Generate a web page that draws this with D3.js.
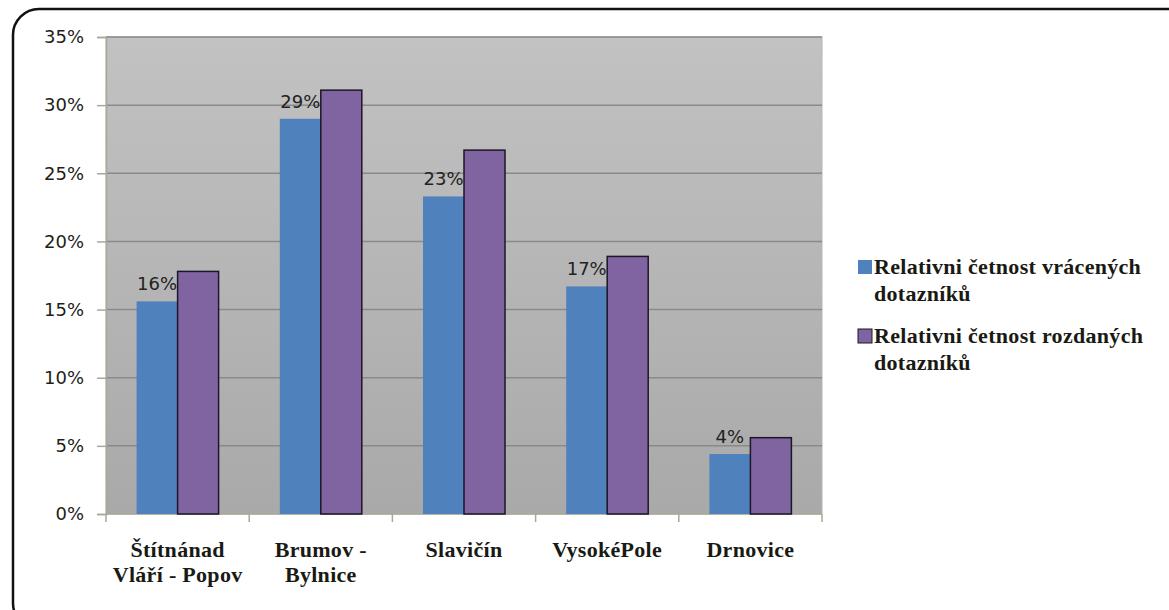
<!DOCTYPE html>
<html>
<head>
<meta charset="utf-8">
<script src="https://cdn.jsdelivr.net/npm/d3@7"></script>
<style>
  body { margin: 0; background: #fff; }
  svg { display: block; }
</style>
</head>
<body>
<svg id="chart" width="1169" height="610"></svg>
<script>
var categories = [['Štítnánad', 'Vláří - Popov'], ['Brumov -', 'Bylnice'], ['Slavičín'], ['VysokéPole'], ['Drnovice']]
var returned = [0.156, 0.290, 0.233, 0.167, 0.044]
var handedOut = [0.178, 0.311, 0.267, 0.189, 0.056]
var seriesNames = [['Relativni četnost vrácených', 'dotazníků'], ['Relativni četnost rozdaných', 'dotazníků']]
var yTicks = [0, 0.05, 0.10, 0.15, 0.20, 0.25, 0.30, 0.35]

var svg = d3.select('#chart')
var plotL = 106, plotR = 822, plotT = 37, plotB = 514

// frame
svg.append('rect')
  .attr('x', 13).attr('y', 9).attr('width', 1180).attr('height', 620)
  .attr('rx', 26).attr('fill', '#fff').attr('stroke', '#111').attr('stroke-width', 2.5)

var grad = svg.append('defs').append('linearGradient')
  .attr('id', 'bg').attr('x1', 0).attr('y1', 0).attr('x2', 0).attr('y2', 1)
grad.append('stop').attr('offset', '0%').attr('stop-color', '#c2c2c2')
grad.append('stop').attr('offset', '100%').attr('stop-color', '#a9a9a9')

var x = d3.scaleBand().domain(d3.range(categories.length)).range([plotL, plotR])
var y = d3.scaleLinear().domain([0, 0.35]).range([plotB, plotT])

svg.append('rect')
  .attr('x', plotL).attr('y', plotT).attr('width', plotR - plotL).attr('height', plotB - plotT)
  .attr('fill', 'url(#bg)').attr('stroke', '#b8b8a8').attr('stroke-width', 1)

// gridlines
svg.append('g').selectAll('line').data(yTicks.slice(1)).join('line')
  .attr('x1', plotL).attr('x2', plotR)
  .attr('y1', d => y(d)).attr('y2', d => y(d))
  .attr('stroke', '#8a8a8a').attr('stroke-width', 1.5)

// y axis
var yAxis = svg.append('g').attr('transform', `translate(${plotL},0)`)
  .call(d3.axisLeft(y).tickValues(yTicks).tickFormat(d3.format('.0%')).tickSize(9).tickPadding(13))
yAxis.select('.domain').attr('stroke', '#a8a898').attr('stroke-width', 1.5)
yAxis.selectAll('.tick line').attr('stroke', '#a8a898').attr('stroke-width', 1.5)
yAxis.selectAll('.tick text')
  .attr('font-family', 'DejaVu Sans, sans-serif').attr('font-size', 18).attr('fill', '#1e1e1a')

// x axis
var xAxis = svg.append('g').attr('transform', `translate(0,${plotB})`)
xAxis.append('line').attr('x1', plotL).attr('x2', plotR).attr('stroke', '#a8a898').attr('stroke-width', 1.5)
xAxis.selectAll('line.tk').data(d3.range(categories.length + 1)).join('line')
  .attr('class', 'tk')
  .attr('x1', i => plotL + i * x.step()).attr('x2', i => plotL + i * x.step())
  .attr('y1', 0).attr('y2', 8).attr('stroke', '#a8a898').attr('stroke-width', 1.5)

var labels = svg.append('g').selectAll('text').data(categories).join('text')
  .attr('x', (d, i) => x(i) + x.bandwidth() / 2)
  .attr('y', 557)
  .attr('text-anchor', 'middle')
  .attr('font-family', 'Liberation Serif, serif').attr('font-weight', 'bold')
  .attr('font-size', 22).attr('letter-spacing', 0.3).attr('fill', '#1a1a14')
labels.selectAll('tspan').data(d => d).join('tspan')
  .attr('x', function(){ return this.parentNode.getAttribute('x') })
  .attr('dy', (d, i) => i ? 25 : 0)
  .text(d => d)

var barW = 41
var pad = (x.bandwidth() - 2 * barW) / 2

// blue bars
svg.append('g').selectAll('rect').data(returned).join('rect')
  .attr('x', (d, i) => x(i) + pad)
  .attr('y', d => y(d))
  .attr('width', barW)
  .attr('height', d => plotB - y(d))
  .attr('fill', '#4f81bd')

// value labels
svg.append('g').selectAll('text').data(returned).join('text')
  .attr('x', (d, i) => x(i) + pad + barW / 2)
  .attr('y', d => y(d) - 11)
  .attr('text-anchor', 'middle')
  .attr('font-family', 'DejaVu Sans, sans-serif').attr('font-size', 18).attr('fill', '#222')
  .text(d => d3.format('.0%')(d))

// purple bars
svg.append('g').selectAll('rect').data(handedOut).join('rect')
  .attr('x', (d, i) => x(i) + pad + barW)
  .attr('y', d => y(d))
  .attr('width', barW)
  .attr('height', d => plotB - y(d))
  .attr('fill', '#8064a2').attr('stroke', '#1c1726').attr('stroke-width', 1.5)

// legend
var colors = ['#4f81bd', '#8064a2']
var leg = svg.append('g').selectAll('g').data(seriesNames).join('g')
  .attr('transform', (d, i) => `translate(858,${260 + i * 69})`)
leg.append('rect')
  .attr('width', 14).attr('height', 14)
  .attr('fill', (d, i) => colors[i])
  .attr('stroke', (d, i) => i ? '#1c1726' : 'none').attr('stroke-width', 1)
var lt = leg.append('text')
  .attr('x', 16).attr('y', 14)
  .attr('font-family', 'Liberation Serif, serif').attr('font-weight', 'bold')
  .attr('font-size', 22).attr('letter-spacing', 0.3).attr('fill', '#1a1a14')
lt.selectAll('tspan').data(d => d).join('tspan')
  .attr('x', 16).attr('dy', (d, i) => i ? 27 : 0)
  .text(d => d)
</script>
</body>
</html>
